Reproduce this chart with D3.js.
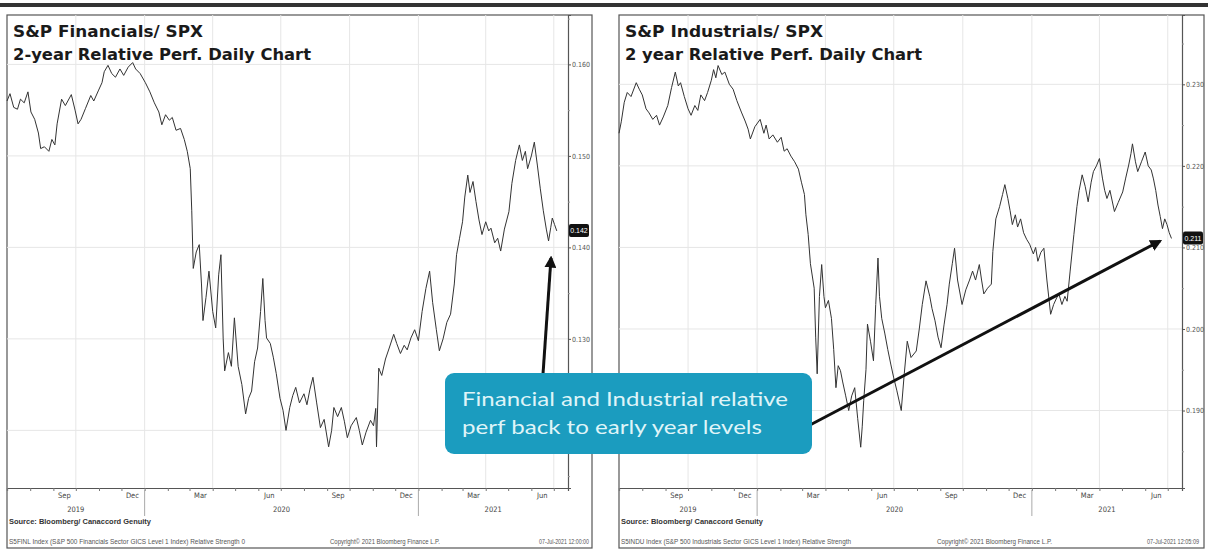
<!DOCTYPE html>
<html>
<head>
<meta charset="utf-8">
<script src="https://cdn.jsdelivr.net/npm/d3@7"></script>
<style>
  body { margin: 0; background: #fff; }
  svg { display: block; }
</style>
</head>
<body>
<script>
// S&P Financials / SPX
const finDates = ["2019-07-01","2019-07-05","2019-07-10","2019-07-15","2019-07-19","2019-07-24","2019-07-29","2019-08-02","2019-08-07","2019-08-12","2019-08-15","2019-08-20","2019-08-26","2019-08-30","2019-09-03","2019-09-06","2019-09-12","2019-09-17","2019-09-25","2019-09-30","2019-10-04","2019-10-08","2019-10-14","2019-10-21","2019-10-25","2019-10-31","2019-11-05","2019-11-08","2019-11-13","2019-11-18","2019-11-23","2019-11-29","2019-12-04","2019-12-10","2019-12-16","2019-12-20","2019-12-26","2020-01-02","2020-01-08","2020-01-14","2020-01-20","2020-01-24","2020-01-29","2020-02-03","2020-02-07","2020-02-12","2020-02-18","2020-02-23","2020-02-27","2020-03-02","2020-03-04","2020-03-06","2020-03-10","2020-03-14","2020-03-17","2020-03-19","2020-03-23","2020-03-27","2020-04-01","2020-04-05","2020-04-09","2020-04-12","2020-04-15","2020-04-17","2020-04-22","2020-04-26","2020-04-30","2020-05-05","2020-05-10","2020-05-15","2020-05-19","2020-05-23","2020-05-27","2020-05-31","2020-06-04","2020-06-07","2020-06-10","2020-06-12","2020-06-17","2020-06-21","2020-06-25","2020-06-30","2020-07-04","2020-07-08","2020-07-13","2020-07-17","2020-07-21","2020-07-26","2020-08-01","2020-08-05","2020-08-09","2020-08-13","2020-08-18","2020-08-23","2020-08-28","2020-09-03","2020-09-07","2020-09-10","2020-09-15","2020-09-20","2020-09-24","2020-09-28","2020-10-03","2020-10-10","2020-10-14","2020-10-18","2020-10-23","2020-10-29","2020-11-02","2020-11-05","2020-11-06","2020-11-09","2020-11-13","2020-11-18","2020-11-23","2020-11-29","2020-12-03","2020-12-08","2020-12-13","2020-12-17","2020-12-22","2020-12-27","2021-01-01","2021-01-06","2021-01-11","2021-01-16","2021-01-20","2021-01-25","2021-01-29","2021-02-03","2021-02-08","2021-02-13","2021-02-18","2021-02-21","2021-02-25","2021-03-01","2021-03-04","2021-03-08","2021-03-11","2021-03-15","2021-03-19","2021-03-23","2021-03-27","2021-04-01","2021-04-05","2021-04-08","2021-04-13","2021-04-17","2021-04-21","2021-04-26","2021-05-02","2021-05-06","2021-05-11","2021-05-16","2021-05-20","2021-05-24","2021-05-27","2021-06-01","2021-06-05","2021-06-09","2021-06-13","2021-06-17","2021-06-21","2021-06-24","2021-06-27","2021-06-29","2021-07-02","2021-07-05"];
const finValues = [0.1560,0.1568,0.1553,0.1551,0.1562,0.1558,0.1570,0.1548,0.1540,0.1525,0.1508,0.1510,0.1505,0.1518,0.1512,0.1535,0.1562,0.1555,0.1567,0.1550,0.1535,0.1540,0.1552,0.1566,0.1560,0.1571,0.1580,0.1592,0.1599,0.1590,0.1586,0.1595,0.1588,0.1597,0.1602,0.1595,0.1590,0.1580,0.1570,0.1558,0.1548,0.1534,0.1545,0.1539,0.1542,0.1528,0.1530,0.1518,0.1505,0.1486,0.1440,0.1377,0.1395,0.1403,0.1360,0.1320,0.1345,0.1374,0.1330,0.1312,0.1370,0.1392,0.1300,0.1265,0.1285,0.1270,0.1323,0.1270,0.1250,0.1218,0.1235,0.1243,0.1275,0.1290,0.1330,0.1366,0.1320,0.1301,0.1295,0.1280,0.1262,0.1235,0.1222,0.1200,0.1225,0.1238,0.1247,0.1230,0.1240,0.1228,0.1245,0.1258,0.1230,0.1203,0.1212,0.1182,0.1200,0.1225,0.1215,0.1225,0.1210,0.1192,0.1205,0.1214,0.1200,0.1184,0.1198,0.1211,0.1205,0.1224,0.1182,0.1268,0.1260,0.1278,0.1290,0.1305,0.1295,0.1284,0.1293,0.1288,0.1301,0.1310,0.1298,0.1330,0.1355,0.1374,0.1340,0.1310,0.1287,0.1300,0.1318,0.1327,0.1360,0.1392,0.1410,0.1428,0.1455,0.1479,0.1460,0.1472,0.1450,0.1430,0.1414,0.1428,0.1418,0.1421,0.1405,0.1410,0.1396,0.1420,0.1439,0.1470,0.1495,0.1512,0.1495,0.1505,0.1486,0.1500,0.1515,0.1490,0.1464,0.1440,0.1420,0.1407,0.1422,0.1432,0.1425,0.1418];

// S&P Industrials / SPX
const indDates = ["2019-07-01","2019-07-04","2019-07-08","2019-07-12","2019-07-17","2019-07-24","2019-07-28","2019-08-01","2019-08-06","2019-08-10","2019-08-15","2019-08-20","2019-08-24","2019-08-29","2019-09-04","2019-09-09","2019-09-14","2019-09-18","2019-09-21","2019-09-26","2019-10-01","2019-10-05","2019-10-10","2019-10-14","2019-10-18","2019-10-23","2019-10-27","2019-11-01","2019-11-04","2019-11-07","2019-11-10","2019-11-15","2019-11-19","2019-11-25","2019-11-30","2019-12-05","2019-12-11","2019-12-16","2019-12-20","2019-12-23","2019-12-29","2020-01-05","2020-01-10","2020-01-13","2020-01-17","2020-01-22","2020-01-28","2020-02-02","2020-02-06","2020-02-10","2020-02-15","2020-02-20","2020-02-25","2020-02-29","2020-03-04","2020-03-06","2020-03-09","2020-03-12","2020-03-17","2020-03-19","2020-03-21","2020-03-24","2020-03-27","2020-03-30","2020-04-01","2020-04-05","2020-04-09","2020-04-12","2020-04-15","2020-04-18","2020-04-21","2020-04-24","2020-04-28","2020-05-02","2020-05-06","2020-05-10","2020-05-14","2020-05-18","2020-05-20","2020-05-22","2020-05-25","2020-05-27","2020-05-31","2020-06-04","2020-06-07","2020-06-10","2020-06-12","2020-06-15","2020-06-19","2020-06-23","2020-06-27","2020-07-01","2020-07-05","2020-07-11","2020-07-15","2020-07-19","2020-07-24","2020-07-31","2020-08-04","2020-08-08","2020-08-13","2020-08-18","2020-08-21","2020-08-25","2020-08-29","2020-09-02","2020-09-06","2020-09-10","2020-09-13","2020-09-17","2020-09-20","2020-09-24","2020-09-30","2020-10-05","2020-10-10","2020-10-14","2020-10-18","2020-10-23","2020-10-26","2020-10-29","2020-11-03","2020-11-08","2020-11-10","2020-11-14","2020-11-19","2020-11-23","2020-11-26","2020-11-30","2020-12-03","2020-12-06","2020-12-10","2020-12-13","2020-12-17","2020-12-21","2020-12-25","2020-12-29","2021-01-03","2021-01-06","2021-01-09","2021-01-13","2021-01-17","2021-01-21","2021-01-26","2021-01-30","2021-02-03","2021-02-06","2021-02-10","2021-02-14","2021-02-17","2021-02-21","2021-02-26","2021-03-02","2021-03-05","2021-03-09","2021-03-13","2021-03-17","2021-03-21","2021-03-24","2021-03-28","2021-04-01","2021-04-05","2021-04-08","2021-04-11","2021-04-15","2021-04-21","2021-04-26","2021-05-02","2021-05-06","2021-05-10","2021-05-13","2021-05-15","2021-05-19","2021-05-22","2021-05-27","2021-06-01","2021-06-05","2021-06-09","2021-06-12","2021-06-15","2021-06-18","2021-06-21","2021-06-24","2021-06-27","2021-06-30","2021-07-03","2021-07-06"];
const indValues = [0.2240,0.2254,0.2278,0.2290,0.2285,0.2302,0.2294,0.2287,0.2270,0.2265,0.2257,0.2262,0.2250,0.2260,0.2274,0.2296,0.2315,0.2298,0.2302,0.2285,0.2270,0.2262,0.2274,0.2268,0.2287,0.2280,0.2290,0.2305,0.2318,0.2308,0.2323,0.2312,0.2315,0.2300,0.2294,0.2280,0.2266,0.2255,0.2245,0.2233,0.2248,0.2257,0.2240,0.2250,0.2233,0.2238,0.2229,0.2235,0.2218,0.2221,0.2212,0.2205,0.2196,0.2180,0.2165,0.2140,0.2116,0.2080,0.2050,0.1990,0.1945,0.2040,0.2079,0.2040,0.2026,0.2035,0.2013,0.1975,0.1928,0.1955,0.1949,0.1935,0.1918,0.1900,0.1918,0.1928,0.1890,0.1855,0.1880,0.1912,0.1950,0.2006,0.1985,0.1961,0.2030,0.2087,0.2040,0.2013,0.1995,0.1975,0.1957,0.1940,0.1925,0.1900,0.1945,0.1985,0.1965,0.1973,0.2000,0.2030,0.2059,0.2040,0.2025,0.2010,0.1990,0.1977,0.2005,0.2030,0.2055,0.2080,0.2099,0.2060,0.2030,0.2048,0.2060,0.2071,0.2060,0.2079,0.2060,0.2043,0.2050,0.2055,0.2095,0.2135,0.2150,0.2165,0.2177,0.2160,0.2145,0.2128,0.2140,0.2125,0.2135,0.2118,0.2110,0.2104,0.2092,0.2100,0.2083,0.2094,0.2099,0.2060,0.2018,0.2030,0.2038,0.2043,0.2030,0.2040,0.2034,0.2071,0.2116,0.2150,0.2170,0.2189,0.2175,0.2156,0.2180,0.2193,0.2200,0.2209,0.2185,0.2170,0.2160,0.2170,0.2144,0.2155,0.2168,0.2185,0.2201,0.2215,0.2227,0.2205,0.2193,0.2205,0.2217,0.2200,0.2195,0.2184,0.2170,0.2152,0.2138,0.2123,0.2135,0.2128,0.2118,0.2111];

const finTicks = [0.120, 0.130, 0.140, 0.150, 0.160];
const indTicks = [0.190, 0.200, 0.210, 0.220, 0.230];
const monthLabels = ["Sep", "Dec", "Mar", "Jun"];
const yearLabels = ["2019", "2020", "2021"];

const parse = d3.timeParse("%Y-%m-%d");
const W = 1208, H = 551;
const plotTop = 15, plotBottom = 488, panelBottom = 548;
const calloutTop = 373;

const svg = d3.select("body").append("svg").attr("width", W).attr("height", H);
svg.append("rect").attr("width", W).attr("height", H).attr("fill", "#fff");
// dark rule across the top
svg.append("rect").attr("x", 0).attr("y", 3).attr("width", W).attr("height", 4).attr("fill", "#333");

function drawPanel(cfg) {
  const data = cfg.dates.map((d, i) => ({ date: parse(d), value: cfg.values[i] }));
  const x = d3.scaleTime().domain([new Date(2019, 6, 1), new Date(2021, 6, 20)]).range([cfg.left, cfg.plotRight]);
  const y = d3.scaleLinear().domain(cfg.yDomain).range([plotBottom, plotTop]);
  const g = svg.append("g");

  g.append("rect")
    .attr("x", cfg.left).attr("y", plotTop)
    .attr("width", cfg.outerRight - cfg.left).attr("height", panelBottom - plotTop)
    .attr("fill", "#fff").attr("stroke", "#555").attr("stroke-width", 1.2);

  // grid
  const quarters = d3.timeMonth.every(3).range(new Date(2019, 6, 2), new Date(2021, 6, 20));
  g.selectAll(".vgrid").data(quarters).enter().append("line")
    .attr("x1", d => x(d)).attr("x2", d => x(d))
    .attr("y1", plotTop).attr("y2", plotBottom)
    .attr("stroke", "#e6e6e6").attr("stroke-width", 1);
  g.selectAll(".hgrid").data(cfg.ticks).enter().append("line")
    .attr("x1", cfg.left).attr("x2", cfg.plotRight)
    .attr("y1", d => y(d)).attr("y2", d => y(d))
    .attr("stroke", "#e6e6e6").attr("stroke-width", 1);

  // series
  const line = d3.line().x(d => x(d.date)).y(d => y(d.value));
  g.append("path").datum(data)
    .attr("d", line).attr("fill", "none")
    .attr("stroke", "#333").attr("stroke-width", 1).attr("stroke-linejoin", "round");

  // right axis (labels hidden where the callout sits over them)
  const hidden = v => cfg.callout && y(v) > calloutTop - 4;
  const minor = cfg.ticks.map(t => t + 0.005).concat([cfg.ticks[0] - 0.005]);
  const yAxis = g.append("g").attr("transform", `translate(${cfg.plotRight},0)`)
    .call(d3.axisRight(y).tickValues(cfg.ticks).tickSize(3).tickPadding(1)
      .tickFormat(v => hidden(v) ? "" : d3.format(".3f")(v)));
  yAxis.select(".domain").attr("stroke", "#555").attr("stroke-width", 1.2);
  yAxis.selectAll("line").attr("stroke", "#555");
  yAxis.selectAll("text").attr("font-family", "'Liberation Sans Narrow', 'DejaVu Sans Condensed', sans-serif")
    .attr("font-size", 7).attr("fill", "#555");
  g.append("g").attr("transform", `translate(${cfg.plotRight},0)`)
    .call(d3.axisRight(y).tickValues(minor.filter(v => y(v) > plotTop && y(v) < plotBottom)).tickSize(2).tickFormat(""))
    .call(a => a.select(".domain").remove())
    .selectAll("line").attr("stroke", "#999");

  // bottom axis: month ticks, mid-month labels
  const xAxis = g.append("g").attr("transform", `translate(0,${plotBottom})`)
    .call(d3.axisBottom(x).ticks(d3.timeMonth.every(1)).tickSize(3).tickFormat(""));
  xAxis.select(".domain").attr("stroke", "#555").attr("stroke-width", 1.2);
  xAxis.selectAll("line").attr("stroke", "#777");

  const labelDates = d3.timeMonth.range(new Date(2019, 6, 1), new Date(2021, 6, 20))
    .filter(d => monthLabels.includes(d3.timeFormat("%b")(d)))
    .map(d => new Date(d.getFullYear(), d.getMonth(), 15));
  const mAxis = g.append("g").attr("transform", `translate(0,${plotBottom})`)
    .call(d3.axisBottom(x).tickValues(labelDates).tickSize(0).tickPadding(5).tickFormat(d3.timeFormat("%b")));
  mAxis.select(".domain").remove();
  mAxis.selectAll("text").attr("font-family", "'Liberation Sans Narrow', 'DejaVu Sans Condensed', sans-serif")
    .attr("font-size", 7.5).attr("fill", "#444");

  // year dividers and labels
  const [d0, d1] = x.domain();
  yearLabels.forEach(yr => {
    const ys = new Date(+yr, 0, 1), ye = new Date(+yr + 1, 0, 1);
    const a = ys < d0 ? d0 : ys, b = ye > d1 ? d1 : ye;
    if (ys > d0) {
      g.append("line").attr("x1", x(ys)).attr("x2", x(ys))
        .attr("y1", plotBottom + 2).attr("y2", plotBottom + 28)
        .attr("stroke", "#aaa").attr("stroke-width", 1);
    }
    g.append("text").attr("x", (x(a) + x(b)) / 2).attr("y", plotBottom + 24)
      .attr("text-anchor", "middle")
      .attr("font-family", "'Liberation Sans Narrow', 'DejaVu Sans Condensed', sans-serif")
      .attr("font-size", 7.5).attr("fill", "#444").text(yr);
  });

  // last value box
  const last = data[data.length - 1];
  g.append("rect").attr("x", cfg.plotRight + 1).attr("y", y(last.value) - 7)
    .attr("width", 20).attr("height", 13).attr("rx", 2).attr("fill", "#111");
  g.append("text").attr("x", cfg.plotRight + 11).attr("y", y(last.value) + 2.5)
    .attr("text-anchor", "middle").attr("fill", "#fff")
    .attr("font-family", "'Liberation Sans Narrow', sans-serif").attr("font-size", 7)
    .text(d3.format(".3f")(last.value));

  // titles
  cfg.titles.forEach((t, i) => {
    g.append("text").attr("x", cfg.left + 6).attr("y", 37 + i * 23)
      .attr("font-family", "'DejaVu Sans', Verdana, sans-serif").attr("font-weight", "bold")
      .attr("font-size", 15).attr("fill", "#1a1a1a")
      .attr("textLength", cfg.titleWidths[i]).attr("lengthAdjust", "spacingAndGlyphs")
      .text(t);
  });

  // source + footer
  g.append("text").attr("x", cfg.left + 2).attr("y", 524)
    .attr("font-family", "'Liberation Sans Narrow', sans-serif").attr("font-weight", "bold")
    .attr("font-size", 8).attr("fill", "#333")
    .attr("textLength", 142).attr("lengthAdjust", "spacingAndGlyphs")
    .text("Source: Bloomberg/ Canaccord Genuity");
  cfg.footer.forEach(f => {
    g.append("text").attr("x", f.x).attr("y", 544)
      .attr("font-family", "'Liberation Sans Narrow', sans-serif")
      .attr("font-size", 6.5).attr("fill", "#555")
      .attr("textLength", f.w).attr("lengthAdjust", "spacingAndGlyphs")
      .text(f.t);
  });
}

drawPanel({
  dates: finDates, values: finValues, ticks: finTicks, callout: true,
  left: 7, plotRight: 568, outerRight: 592, yDomain: [0.1137, 0.1654],
  titles: ["S&P Financials/  SPX", "2-year Relative Perf. Daily Chart"], titleWidths: [190, 298],
  footer: [
    { x: 9, w: 236, t: "S5FINL Index (S&P 500 Financials Sector GICS Level 1 Index) Relative Strength 0" },
    { x: 330, w: 110, t: "Copyright© 2021 Bloomberg Finance L.P." },
    { x: 539, w: 50, t: "07-Jul-2021 12:00:00" }
  ]
});

drawPanel({
  dates: indDates, values: indValues, ticks: indTicks, callout: false,
  left: 619, plotRight: 1182, outerRight: 1204, yDomain: [0.1805, 0.2385],
  titles: ["S&P Industrials/  SPX", "2 year Relative Perf. Daily Chart"], titleWidths: [198, 297],
  footer: [
    { x: 621, w: 230, t: "S5INDU Index (S&P 500 Industrials Sector GICS Level 1 Index) Relative Strength" },
    { x: 937, w: 115, t: "Copyright© 2021 Bloomberg Finance L.P." },
    { x: 1147, w: 52, t: "07-Jul-2021 12:05:09" }
  ]
});

// arrows and callout
const defs = svg.append("defs");
defs.append("marker").attr("id", "head").attr("viewBox", "0 0 10 10")
  .attr("refX", 8).attr("refY", 5).attr("markerWidth", 4).attr("markerHeight", 4)
  .attr("orient", "auto")
  .append("path").attr("d", "M0,0 L10,5 L0,10 Z").attr("fill", "#111");

svg.append("line").attr("x1", 543).attr("y1", 374).attr("x2", 551).attr("y2", 258)
  .attr("stroke", "#111").attr("stroke-width", 3).attr("marker-end", "url(#head)");
svg.append("line").attr("x1", 810).attr("y1", 425).attr("x2", 1160).attr("y2", 241)
  .attr("stroke", "#111").attr("stroke-width", 3).attr("marker-end", "url(#head)");

svg.append("rect").attr("x", 445).attr("y", calloutTop).attr("width", 367).attr("height", 81)
  .attr("rx", 9).attr("fill", "#1b9cbf");
const callout = ["Financial and Industrial relative", "perf back to early year levels"];
callout.forEach((t, i) => {
  svg.append("text").attr("x", 462).attr("y", 406 + i * 28)
    .attr("font-family", "Lato, 'Open Sans', sans-serif").attr("font-size", 20)
    .attr("fill", "#dff4f8").attr("textLength", i === 0 ? 326 : 300).attr("lengthAdjust", "spacingAndGlyphs")
    .text(t);
});
</script>
</body>
</html>
